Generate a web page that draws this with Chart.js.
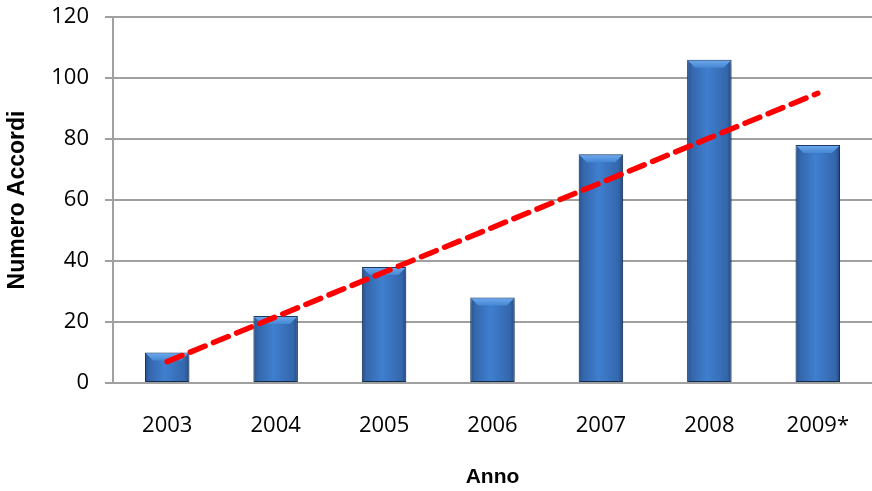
<!DOCTYPE html>
<html>
<head>
<meta charset="utf-8">
<script src="https://cdn.jsdelivr.net/npm/chart.js@4/dist/chart.umd.min.js"></script>
<style>
  html, body { margin: 0; padding: 0; background: #fff; }
  #wrap { width: 872px; height: 491px; position: relative; }
</style>
</head>
<body>
<div id="wrap"><canvas id="grafico"></canvas></div>
<script>
const anni = ['2003', '2004', '2005', '2006', '2007', '2008', '2009*']
const accordi = [10, 22, 38, 28, 75, 106, 78]
// trend line, only its two ends
const tendenza = [7, null, null, null, null, null, 95]

const TICK_FONT = '"Open Sans", "Liberation Sans", Arial, sans-serif'
const TITLE_FONT = '"Liberation Sans", Arial, sans-serif'
const BAR_PCT = 0.41

// horizontal shading of each bar, built from the x scale
function barGradient(context) {
    const chart = context.chart
    const xs = chart.scales.x
    if (!xs || !chart.chartArea || context.dataIndex === undefined) return '#3a78c8'
    const cx = xs.getPixelForValue(context.dataIndex)
    const half = xs.width / anni.length * BAR_PCT / 2
    if (!Number.isFinite(cx) || !Number.isFinite(half)) return '#3a78c8'
    const g = chart.ctx.createLinearGradient(cx - half, 0, cx + half, 0)
    g.addColorStop(0, '#24528f')
    g.addColorStop(0.1, '#3466ab')
    g.addColorStop(0.45, '#3f7fcf')
    g.addColorStop(0.9, '#3466ab')
    g.addColorStop(1, '#21487f')
    return g
}

// soft shadow under the bars and a lighter bevel on their tops
const barLook = {
    id: 'barLook',
    beforeDatasetDraw(chart, args) {
        if (chart.data.datasets[args.index].type === 'line') return
        const c = chart.ctx
        c.save()
        c.shadowColor = 'rgba(0,0,0,0.35)'
        c.shadowBlur = 6
        c.shadowOffsetY = 3
    },
    afterDatasetDraw(chart, args) {
        if (chart.data.datasets[args.index].type === 'line') return
        const c = chart.ctx
        c.restore()
        c.save()
        args.meta.data.forEach(bar => {
            const l = bar.x - bar.width / 2 + 1
            const r = bar.x + bar.width / 2 - 1
            const t = bar.y + 1
            const d = 7
            const g = c.createLinearGradient(0, t, 0, t + d)
            g.addColorStop(0, '#6aa6ea')
            g.addColorStop(1, '#4587d4')
            c.fillStyle = g
            c.beginPath()
            c.moveTo(l, t)
            c.lineTo(r, t)
            c.lineTo(r - d, t + d)
            c.lineTo(l + d, t + d)
            c.closePath()
            c.fill()
        })
        c.restore()
    }
}

const ctx = document.getElementById('grafico')

new Chart(ctx, {
    type: 'bar',
    data: {
        labels: anni,
        datasets: [{
            type: 'line',
            label: 'Tendenza',
            data: tendenza,
            borderColor: '#ff0000',
            borderWidth: 5.5,
            borderDash: [16, 9],
            borderCapStyle: 'round',
            pointRadius: 0,
            spanGaps: true,
            order: 0
        }, {
            label: 'Numero Accordi',
            data: accordi,
            backgroundColor: barGradient,
            borderColor: '#1c3c6b',
            borderWidth: 1,
            borderSkipped: false,
            barPercentage: BAR_PCT,
            categoryPercentage: 1,
            order: 1
        }]
    },
    plugins: [barLook],
    options: {
        responsive: true,
        maintainAspectRatio: false,
        animation: false,
        layout: { padding: { top: 17, right: 0 } },
        plugins: {
            legend: { display: false },
            tooltip: { enabled: false }
        },
        scales: {
            x: {
                grid: { display: false, drawTicks: false },
                border: { display: true, color: '#a0a0a0', width: 2 },
                ticks: { color: '#000', font: { family: TICK_FONT, size: 22 }, padding: 30 },
                title: {
                    display: true, text: 'Anno', color: '#000',
                    font: { family: TITLE_FONT, size: 21, weight: 'bold' },
                    padding: { top: 10, bottom: 1 }
                },
                afterFit: (scale) => {
                    scale.height = 108
                    scale.paddingLeft = 0
                    scale.paddingRight = 0
                }
            },
            y: {
                min: 0,
                max: 120,
                ticks: { stepSize: 20, color: '#000', font: { family: TICK_FONT, size: 22 }, padding: 16 },
                grid: { color: '#a0a0a0', lineWidth: 2, tickLength: 8 },
                border: { display: true, color: '#a0a0a0', width: 2 },
                title: {
                    display: true, text: 'Numero Accordi', color: '#000',
                    font: { family: TITLE_FONT, size: 23, weight: 'bold' },
                    padding: { top: 4, bottom: 0 }
                },
                afterFit: (scale) => {
                    scale.width = 113
                    scale.paddingTop = 0
                    scale.paddingBottom = 0
                }
            }
        }
    }
})
</script>
</body>
</html>
